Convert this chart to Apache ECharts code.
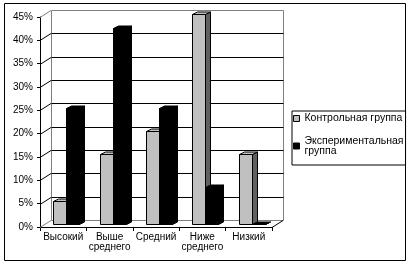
<!DOCTYPE html>
<html><head><meta charset="utf-8">
<script src="https://cdn.jsdelivr.net/npm/echarts@6/dist/echarts.min.js"></script>
<style>html,body{margin:0;padding:0;background:#fff}#c{width:412px;height:265px}</style>
</head><body><div id="c"></div>
<script>
const categories = ['Высокий', 'Выше\nсреднего', 'Средний', 'Ниже\nсреднего', 'Низкий'];
const seriesNames = ['Контрольная группа', 'Экспериментальная группа'];
const legendLabels = ['Контрольная группа', 'Экспериментальная\nгруппа'];
const controlValues = [0.05, 0.15, 0.20, 0.45, 0.15];
const experimentalValues = [0.25, 0.42, 0.25, 0.08, 0.00];
const yTickValues = [0, 0.05, 0.10, 0.15, 0.20, 0.25, 0.30, 0.35, 0.40, 0.45];
const yMin = 0, yMax = 0.45, yStep = 0.05;

const FONT = "'Liberation Sans', Arial, sans-serif";
const WALL_DX = 11, WALL_DY = -7;      // depth of the 3D wall
const BAR_DY = -2.7;                   // bars sit slightly back from front plane
const BAR_DEPTH_X = 5, BAR_DEPTH_Y = 2.5;
const GRAY = '#808080';
const faceColors = [
  {front: '#c0c0c0', top: '#c0c0c0', side: '#606060'},
  {front: '#000000', top: '#000000', side: '#000000'}
];

const px = v => Math.round(v) + 0.5;

function renderWall(params, api) {
  const v = api.value(1);
  const size = api.size([1, 0])[0];
  const c0 = api.coord([0, v]);
  const cN = api.coord([categories.length - 1, v]);
  const xL = c0[0] - size / 2, xR = cN[0] + size / 2;
  const y = px(c0[1]);
  const edge = (v === yMin || v === yMax);
  const children = [
    {type: 'line', shape: {x1: xL, y1: y, x2: xL + WALL_DX, y2: y + WALL_DY},
     style: {stroke: edge ? GRAY : '#000', lineWidth: 1}},
    {type: 'line', shape: {x1: px(xL + WALL_DX), y1: y + WALL_DY, x2: px(xR + WALL_DX), y2: y + WALL_DY},
     style: {stroke: edge ? GRAY : '#000', lineWidth: 1}}
  ];
  if (params.dataIndex === 0) {
    const yb = px(api.coord([0, yMin])[1]);
    const yt = px(api.coord([0, yMax])[1]);
    children.push(
      {type: 'line', shape: {x1: px(xL + WALL_DX), y1: yb + WALL_DY, x2: px(xL + WALL_DX), y2: yt + WALL_DY},
       style: {stroke: GRAY, lineWidth: 1}},
      {type: 'line', shape: {x1: px(xR + WALL_DX), y1: yb + WALL_DY, x2: px(xR + WALL_DX), y2: yt + WALL_DY},
       style: {stroke: GRAY, lineWidth: 1}},
      {type: 'line', shape: {x1: xR, y1: yb, x2: xR + WALL_DX, y2: yb + WALL_DY},
       style: {stroke: '#000', lineWidth: 1}}
    );
  }
  return {type: 'group', children};
}

function makeBarRenderer(si) {
  return function (params, api) {
    const idx = api.value(0), v = api.value(1);
    const size = api.size([1, 0])[0];
    const cx = api.coord([idx, 0])[0];
    const yb = px(api.coord([idx, 0])[1] + BAR_DY);
    const yt = px(api.coord([idx, v])[1] + BAR_DY);
    const w = Math.round(size * 0.28);
    const x0 = px(cx - size * 0.215 + si * w);
    const x1 = x0 + w;
    const dx = BAR_DEPTH_X, dy = BAR_DEPTH_Y;
    const col = faceColors[si];
    return {type: 'group', children: [
      {type: 'polygon', shape: {points: [[x1, yt], [x1 + dx, yt - dy], [x1 + dx, yb - dy], [x1, yb]]},
       style: {fill: col.side, stroke: '#000', lineWidth: 1}},
      {type: 'polygon', shape: {points: [[x0, yt], [x1, yt], [x1 + dx, yt - dy], [x0 + dx, yt - dy]]},
       style: {fill: col.top, stroke: '#000', lineWidth: 1}},
      {type: 'rect', shape: {x: x0, y: yt, width: w, height: yb - yt},
       style: {fill: col.front, stroke: '#000', lineWidth: 1}}
    ]};
  };
}

const chart = echarts.init(document.getElementById('c'), null, {renderer: 'canvas'});
chart.setOption({
  animation: false,
  backgroundColor: '#fff',
  textStyle: {fontFamily: FONT},
  grid: {left: 40, top: 17, width: 232, height: 210, outerBoundsMode: 'none'},
  xAxis: {
    type: 'category', data: categories,
    axisLine: {lineStyle: {color: '#000', width: 1}},
    axisTick: {show: true, length: 4, lineStyle: {color: '#000'}},
    axisLabel: {interval: 0, fontSize: 10, color: '#000', lineHeight: 10, margin: 5, fontFamily: FONT},
    splitLine: {show: false}
  },
  yAxis: {
    type: 'value', min: yMin, max: yMax, interval: yStep,
    axisLine: {show: true, lineStyle: {color: '#000', width: 1}},
    axisTick: {show: true, length: 3, lineStyle: {color: '#000'}},
    axisLabel: {fontSize: 10, color: '#000', margin: 7, fontFamily: FONT,
      formatter: v => Math.round(v * 100) + '%'},
    splitLine: {show: false}
  },
  legend: {
    orient: 'vertical', left: 292, top: 111,
    itemWidth: 6, itemHeight: 6, itemGap: 7,
    padding: [2, 2, 4, 1],
    borderColor: '#000', borderWidth: 1, backgroundColor: '#fff',
    selectedMode: false,
    textStyle: {fontFamily: FONT, fontSize: 10.5, color: '#000', lineHeight: 10},
    formatter: n => legendLabels[seriesNames.indexOf(n)],
    data: [
      {name: seriesNames[0], icon: 'rect', itemStyle: {color: '#c0c0c0', borderColor: '#000', borderWidth: 1}},
      {name: seriesNames[1], icon: 'rect', itemStyle: {color: '#000', borderColor: '#000', borderWidth: 1},
       textStyle: {padding: [10, 0, 0, 0]}}
    ]
  },
  graphic: [{
    type: 'rect', shape: {x: 4.5, y: 3.5, width: 401, height: 257},
    style: {fill: 'none', stroke: '#000', lineWidth: 1}, z: 100
  }],
  series: [
    {type: 'custom', name: 'wall', coordinateSystem: 'cartesian2d', silent: true, z: 1,
     renderItem: renderWall, data: yTickValues.map(v => [0, v])},
    {type: 'custom', name: seriesNames[0], coordinateSystem: 'cartesian2d', z: 2,
     itemStyle: {color: '#c0c0c0'},
     renderItem: makeBarRenderer(0), data: controlValues.map((v, i) => [i, v])},
    {type: 'custom', name: seriesNames[1], coordinateSystem: 'cartesian2d', z: 3,
     itemStyle: {color: '#000'},
     renderItem: makeBarRenderer(1), data: experimentalValues.map((v, i) => [i, v])}
  ]
});
</script></body></html>
